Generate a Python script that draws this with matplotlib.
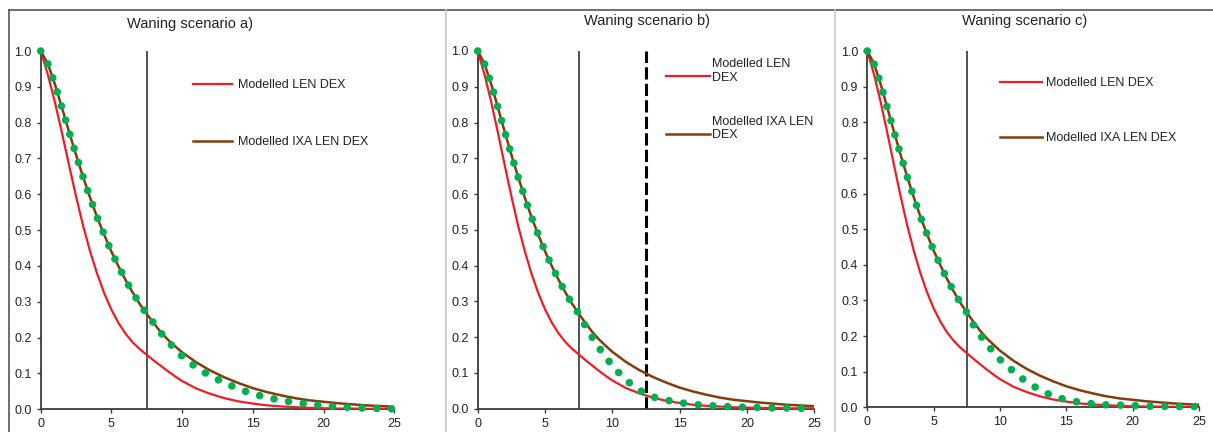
import matplotlib
matplotlib.use('Agg')
import matplotlib.pyplot as plt
from matplotlib.lines import Line2D

plt.rcParams['font.family'] = ['Liberation Sans', 'DejaVu Sans']

# time (x axis) sample points
T = [0, 0.5, 1, 1.5, 2, 2.5, 3, 3.5, 4, 4.5, 5, 5.5, 6, 6.5, 7, 7.5, 8, 8.5, 9, 9.5,
     10, 11, 12, 13, 14, 15, 16, 17, 18, 19, 20, 21, 22, 23, 24, 25]

# Modelled LEN DEX (same in all three panels)
RED = [1.000, 0.935, 0.858, 0.772, 0.682, 0.594, 0.512, 0.440, 0.377, 0.323, 0.278, 0.241,
       0.211, 0.187, 0.168, 0.152, 0.136, 0.121, 0.106, 0.092, 0.079, 0.058, 0.043, 0.031,
       0.022, 0.016, 0.011, 0.008, 0.006, 0.004, 0.003, 0.002, 0.002, 0.001, 0.001, 0.001]

# Modelled IXA LEN DEX (same in all three panels)
BROWN = [1.000, 0.965, 0.908, 0.842, 0.775, 0.710, 0.648, 0.590, 0.535, 0.486, 0.440, 0.399,
         0.361, 0.326, 0.294, 0.266, 0.240, 0.215, 0.194, 0.176, 0.159, 0.131, 0.108, 0.089,
         0.073, 0.059, 0.048, 0.039, 0.031, 0.025, 0.021, 0.017, 0.014, 0.011, 0.009, 0.007]

# waning scenarios (green dots)
GREEN_A = [1.000, 0.965, 0.908, 0.842, 0.775, 0.710, 0.648, 0.590, 0.535, 0.486, 0.440, 0.399,
           0.361, 0.326, 0.294, 0.266, 0.240, 0.213, 0.190, 0.168, 0.148, 0.117, 0.093, 0.074,
           0.057, 0.043, 0.033, 0.025, 0.019, 0.014, 0.010, 0.007, 0.005, 0.003, 0.002, 0.001]
GREEN_B = [1.000, 0.965, 0.908, 0.842, 0.775, 0.710, 0.648, 0.590, 0.535, 0.486, 0.440, 0.399,
           0.361, 0.326, 0.294, 0.266, 0.231, 0.200, 0.171, 0.145, 0.120, 0.080, 0.052, 0.033,
           0.024, 0.017, 0.012, 0.009, 0.007, 0.005, 0.004, 0.003, 0.002, 0.002, 0.001, 0.001]
GREEN_C = [1.000, 0.965, 0.908, 0.842, 0.775, 0.710, 0.648, 0.590, 0.535, 0.486, 0.440, 0.399,
           0.361, 0.326, 0.294, 0.266, 0.231, 0.203, 0.178, 0.155, 0.134, 0.101, 0.071, 0.049,
           0.031, 0.021, 0.014, 0.010, 0.007, 0.006, 0.005, 0.003, 0.003, 0.002, 0.002, 0.002]

TITLES = ['Waning scenario a)', 'Waning scenario b)', 'Waning scenario c)']
GREENS = [GREEN_A, GREEN_B, GREEN_C]
SOLID_VLINES = [[7.5], [7.5], [7.5]]
DASHED_VLINES = [[], [12.5], []]
LEGEND_LABELS = [
    ['Modelled LEN DEX', 'Modelled IXA LEN DEX'],
    ['Modelled LEN\nDEX', 'Modelled IXA LEN\nDEX'],
    ['Modelled LEN DEX', 'Modelled IXA LEN DEX'],
]
XTICKS = [0, 5, 10, 15, 20, 25]
YTICKS = [0.0, 0.1, 0.2, 0.3, 0.4, 0.5, 0.6, 0.7, 0.8, 0.9, 1.0]

W, H = 1213, 432
RED_C = '#ee1c25'
BROWN_C = '#843c0c'
GREEN_C_ = '#00b050'

fig = plt.figure(figsize=(W / 100, H / 100), dpi=100)

# axes boxes in pixels: left, top, right, bottom
boxes = [(40.7, 51, 394.3, 409.3), (477.7, 51, 814.3, 408.7), (867.3, 51, 1199, 407.3)]
title_pos = [(190, 24), (647, 21), (1025, 21)]
# legend: line x0, x1, text x, y of first and second entry (axes fraction)
legend_pos = [(0.431, 0.541, 0.558, 0.908, 0.749),
              (0.559, 0.690, 0.696, 0.930, 0.768),
              (0.400, 0.527, 0.539, 0.913, 0.759)]

for i in range(3):
    l, t, r, b = boxes[i]
    ax = fig.add_axes([l / W, 1 - b / H, (r - l) / W, (b - t) / H])

    ax.plot(T, RED, color=RED_C, lw=1.6, zorder=3)
    ax.plot(T, BROWN, color=BROWN_C, lw=1.8, zorder=3)
    ax.plot(T, GREENS[i], color=GREEN_C_, lw=5.5, linestyle=(0, (0.001, 1.93)),
            dash_capstyle='round', zorder=4, clip_on=False)

    for xv in SOLID_VLINES[i]:
        ax.axvline(xv, color='#222222', lw=1.1, zorder=2)
    for xv in DASHED_VLINES[i]:
        ax.axvline(xv, color='black', lw=2.2, linestyle=(0, (4, 1.4)), zorder=2)

    ax.set_xlim(0, 25)
    ax.set_ylim(0, 1)
    ax.set_xticks(XTICKS)
    ax.set_yticks(YTICKS)
    ax.set_yticklabels([f'{v:.1f}' for v in YTICKS])
    ax.spines['top'].set_visible(False)
    ax.spines['right'].set_visible(False)
    for s in ['left', 'bottom']:
        ax.spines[s].set_color('#3a3a3a')
        ax.spines[s].set_linewidth(1.3)
    ax.tick_params(axis='x', direction='out', length=3, width=1, pad=3.5,
                   labelsize=9, colors='#3a3a3a', labelcolor='#222222')
    ax.tick_params(axis='y', direction='out', length=3, width=1, pad=3.5,
                   labelsize=9, colors='#3a3a3a', labelcolor='#222222')

    # legend drawn by hand so the line sits on the first text line
    x0, x1, xt, y1, y2 = legend_pos[i]
    for lab, col, lw, ly in zip(LEGEND_LABELS[i], [RED_C, BROWN_C], [1.6, 1.8], [y1, y2]):
        ax.plot([x0, x1], [ly, ly], transform=ax.transAxes, color=col, lw=lw, clip_on=False)
        ax.text(xt, ly - 0.0126, lab, transform=ax.transAxes, va='baseline', ha='left',
                fontsize=9, color='#222222', linespacing=1.15)

    tx, ty = title_pos[i]
    fig.text(tx / W, 1 - ty / H, TITLES[i], ha='center', va='center', fontsize=10.5,
             color='#222222')

# outer frame and panel separators
fig.add_artist(Line2D([9 / W, 1], [1 - 10 / H, 1 - 10 / H], transform=fig.transFigure,
                      color='#555555', lw=1.2))
fig.add_artist(Line2D([9 / W, 9 / W], [0, 1 - 10 / H], transform=fig.transFigure,
                      color='#555555', lw=1.2))
for sx in [446, 835]:
    fig.add_artist(Line2D([sx / W, sx / W], [0, 1 - 10 / H], transform=fig.transFigure,
                          color='#cccccc', lw=1.2))

fig.savefig('out.png', dpi=100)
